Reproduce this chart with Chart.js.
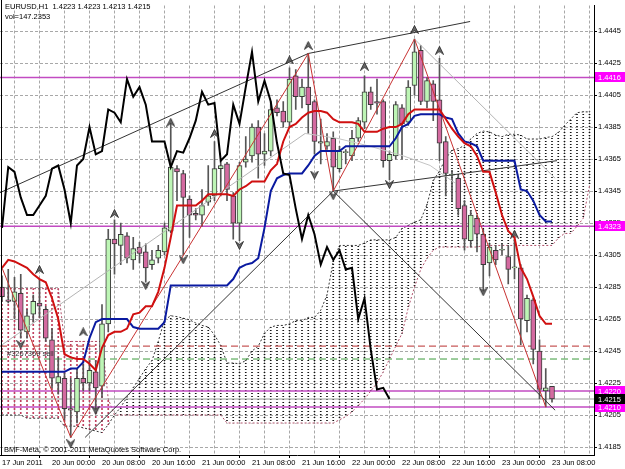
<!DOCTYPE html>
<html>
<head>
<meta charset="utf-8">
<script src="https://cdn.jsdelivr.net/npm/chart.js@4.4.1/dist/chart.umd.min.js"></script>
<style>
  html, body { margin: 0; padding: 0; background: #fff; }
  canvas { display: block; }
</style>
</head>
<body>
<canvas id="chart" width="625" height="469"></canvas>
<script>
// EURUSD H1, 17 Jun 2011 16:00 .. 23 Jun 2011 08:00 (one entry per bar)
const open  = [1.4285,1.4277,1.4276,1.4281,1.4257,1.4268,1.4275,1.4271,1.4252,1.4225,1.4228,1.4209,1.4207,1.4228,1.4225,1.4232,1.4223,1.4262,1.4315,1.4311,1.4317,1.4302,1.4310,1.4307,1.4299,1.4303,1.4307,1.4320,1.4359,1.4356,1.4340,1.4331,1.4330,1.4338,1.4342,1.4359,1.4362,1.4342,1.4325,1.4363,1.4367,1.4385,1.4368,1.4370,1.4397,1.4395,1.4388,1.4417,1.4404,1.4410,1.4401,1.4375,1.4373,1.4378,1.4359,1.4369,1.4367,1.4378,1.4388,1.4407,1.4401,1.4401,1.4364,1.4367,1.4397,1.4388,1.4411,1.4433,1.4401,1.4412,1.4402,1.4376,1.4355,1.4353,1.4336,1.4314,1.4328,1.4318,1.4300,1.4308,1.4308,1.4304,1.4297,1.4297,1.4264,1.4277,1.4245,1.4220,1.4223];
const high  = [1.4292,1.4296,1.4291,1.4293,1.4271,1.4280,1.4290,1.4273,1.4259,1.4241,1.4231,1.4228,1.4234,1.4237,1.4239,1.4239,1.4274,1.4321,1.4327,1.4325,1.4319,1.4316,1.4313,1.4312,1.4308,1.4311,1.4325,1.4389,1.4361,1.4358,1.4342,1.4334,1.4346,1.4361,1.4376,1.4364,1.4363,1.4344,1.4363,1.4379,1.4387,1.4389,1.4381,1.4401,1.4402,1.4401,1.4422,1.4421,1.4415,1.4431,1.4402,1.4390,1.4381,1.4382,1.4373,1.4371,1.4383,1.4391,1.4417,1.4410,1.4415,1.4402,1.4370,1.4401,1.4399,1.4414,1.4440,1.4436,1.4416,1.4414,1.4428,1.4379,1.4358,1.4355,1.4339,1.4333,1.4330,1.4321,1.4312,1.4311,1.4312,1.4311,1.4315,1.4299,1.4280,1.4278,1.4252,1.4234,1.4223];
const low   = [1.4276,1.4275,1.4265,1.4253,1.4253,1.4263,1.4266,1.4251,1.4222,1.4218,1.4202,1.4191,1.4200,1.4220,1.4220,1.4206,1.4216,1.4257,1.4293,1.4299,1.4300,1.4296,1.4300,1.4288,1.4296,1.4300,1.4305,1.4319,1.4339,1.4305,1.4316,1.4327,1.4323,1.4336,1.4339,1.4342,1.4339,1.4315,1.4314,1.4360,1.4363,1.4353,1.4361,1.4367,1.4392,1.4385,1.4385,1.4396,1.4397,1.4381,1.4368,1.4362,1.4371,1.4345,1.4357,1.4362,1.4364,1.4376,1.4384,1.4396,1.4393,1.4360,1.4352,1.4365,1.4365,1.4386,1.4405,1.4399,1.4397,1.4389,1.4364,1.4342,1.4339,1.4330,1.4308,1.4310,1.4307,1.4282,1.4292,1.4299,1.4305,1.4287,1.4290,1.4249,1.4257,1.4237,1.4215,1.4210,1.4213];
const close = [1.4279,1.4276,1.4282,1.4258,1.4267,1.4276,1.4273,1.4253,1.4228,1.4229,1.4209,1.4208,1.4228,1.4225,1.4233,1.4222,1.4262,1.4315,1.4312,1.4318,1.4303,1.4309,1.4306,1.4297,1.4302,1.4308,1.4322,1.4360,1.4357,1.4341,1.4330,1.4330,1.4336,1.4342,1.4359,1.4361,1.4346,1.4325,1.4361,1.4365,1.4385,1.4368,1.4370,1.4396,1.4394,1.4388,1.4415,1.4404,1.4410,1.4399,1.4376,1.4376,1.4376,1.4360,1.4370,1.4369,1.4378,1.4389,1.4407,1.4399,1.4400,1.4364,1.4368,1.4399,1.4387,1.4410,1.4432,1.4401,1.4414,1.4401,1.4375,1.4356,1.4355,1.4334,1.4315,1.4330,1.4318,1.4299,1.4310,1.4302,1.4308,1.4296,1.4297,1.4265,1.4278,1.4246,1.4221,1.4222,1.4215];

// Ichimoku lines
const tenkan = [1.4297,1.4302,1.4301,1.4299,1.4297,1.4293,1.4290,1.4288,1.4278,1.4265,1.4243,1.4241,1.4240,1.4240,1.4237,1.4233,1.4247,1.4255,1.4257,1.4257,1.4259,1.4268,1.4269,1.4273,1.4273,1.4282,1.4297,1.4316,1.4336,1.4336,1.4336,1.4336,1.4339,1.4343,1.4343,1.4343,1.4343,1.4342,1.4346,1.4348,1.4351,1.4351,1.4351,1.4358,1.4362,1.4376,1.4385,1.4387,1.4391,1.4394,1.4395,1.4395,1.4394,1.4390,1.4388,1.4388,1.4388,1.4387,1.4382,1.4382,1.4382,1.4384,1.4385,1.4385,1.4387,1.4393,1.4396,1.4396,1.4396,1.4396,1.4396,1.4390,1.4384,1.4379,1.4375,1.4373,1.4367,1.4357,1.4357,1.4344,1.4330,1.4320,1.4316,1.4297,1.4290,1.4279,1.4267,1.4262,1.4262];
const kijun  = [1.4232,1.4232,1.4232,1.4232,1.4232,1.4232,1.4232,1.4232,1.4232,1.4232,1.4232,1.4234,1.4234,1.4238,1.4253,1.4263,1.4265,1.4265,1.4265,1.4265,1.4265,1.4260,1.4259,1.4259,1.4259,1.4259,1.4263,1.4286,1.4286,1.4286,1.4286,1.4286,1.4286,1.4286,1.4286,1.4286,1.4286,1.4290,1.4297,1.4299,1.4300,1.4303,1.4322,1.4345,1.4353,1.4355,1.4356,1.4356,1.4356,1.4361,1.4367,1.4370,1.4370,1.4370,1.4370,1.4373,1.4373,1.4373,1.4373,1.4373,1.4373,1.4373,1.4373,1.4378,1.4385,1.4387,1.4392,1.4393,1.4393,1.4393,1.4393,1.4391,1.4390,1.4381,1.4376,1.4375,1.4373,1.4364,1.4364,1.4364,1.4364,1.4364,1.4364,1.4346,1.4345,1.4339,1.4330,1.4326,1.4326];
// cloud spans, already shifted 26 bars forward (95 bars incl. the empty right margin)
const spanA  = [1.4205,1.4205,1.4205,1.4205,1.4203,1.4203,1.4203,1.4203,1.4203,1.4203,1.4198,1.4198,1.4198,1.4197,1.4196,1.4195,1.4194,1.4199,1.4205,1.4210,1.4216,1.4222,1.4228,1.4234,1.4239,1.4251,1.42645,1.4267,1.42665,1.42655,1.42645,1.42625,1.4261,1.4260,1.4255,1.42485,1.42375,1.42375,1.4237,1.4239,1.4245,1.4248,1.4256,1.4260,1.4261,1.4261,1.4262,1.4264,1.4264,1.4266,1.4266,1.42705,1.4280,1.4301,1.4311,1.4311,1.4311,1.4311,1.43125,1.43145,1.43145,1.43145,1.43145,1.4316,1.43215,1.43235,1.43255,1.4327,1.43365,1.43515,1.43575,1.43655,1.43705,1.43715,1.43735,1.43775,1.4381,1.43825,1.4382,1.4380,1.4379,1.43805,1.43805,1.4380,1.43775,1.43775,1.43775,1.43785,1.4379,1.43815,1.4386,1.4390,1.4394,1.43945,1.43945];
const spanB  = [1.4284,1.4284,1.4284,1.4284,1.4284,1.4284,1.4284,1.4284,1.4284,1.4284,1.4251,1.4251,1.4251,1.4251,1.4251,1.4251,1.4251,1.4215,1.4205,1.4205,1.4205,1.4205,1.4205,1.4205,1.4205,1.4205,1.4205,1.4205,1.4205,1.4205,1.4205,1.4205,1.4205,1.4205,1.4205,1.4205,1.4200,1.4200,1.4200,1.4200,1.4200,1.4200,1.4200,1.4200,1.4200,1.4200,1.4200,1.4200,1.4200,1.4200,1.4200,1.4200,1.4200,1.4200,1.4202,1.4204,1.4207,1.4211,1.4215,1.4220,1.4225,1.4232,1.4240,1.4248,1.4256,1.4272,1.4285,1.4296,1.4303,1.4308,1.4310,1.4310,1.4310,1.4310,1.4310,1.4310,1.4310,1.4311,1.4311,1.4311,1.4311,1.4311,1.4311,1.4311,1.4311,1.4311,1.4311,1.4311,1.4311,1.43155,1.43185,1.43185,1.4323,1.4328,1.43485];
const chikouShift = 26;

// Fractal arrows (bar index, price)
const upFractalBar    = [6, 13, 18, 27, 34, 46, 49, 58, 66, 70, 82];
const upFractalPrice  = [1.4296,1.4257,1.4331,1.4388,1.4381,1.4427,1.4436,1.4423,1.4446,1.4433,1.4318];
const dnFractalBar    = [3, 11, 15, 23, 29, 38, 50, 53, 62, 77];
const dnFractalPrice  = [1.4249,1.4187,1.4208,1.4286,1.4302,1.4311,1.4355,1.4342,1.4349,1.4282];

// ZigZag turning points
const zigzagBar   = [0, 11, 49, 53, 66, 87];
const zigzagPrice = [1.4297, 1.4191, 1.4431, 1.4345, 1.4440, 1.4210];

// hand drawn trend lines: [bar, price, bar, price]
const blackLines = [
  [-0.32, 1.4344, 49, 1.4431],
  [49, 1.4431, 74.9, 1.4451],
  [53, 1.4345, 88.8, 1.4364],
  [53, 1.4345, 88.5, 1.4208],
  [13.3, 1.4191, 53, 1.4345]
];
const grayLines = [
  [66, 1.4440, 88.5, 1.4353],
  [-0.32, 1.4248, 48.5, 1.4381]
];
const arcBar   = [48.5, 53.6, 58.9, 64.2, 68.5, 72.5];
const arcPrice = [1.4381, 1.4378, 1.4373, 1.4367, 1.4361, 1.4350];

// horizontal levels
const levelPrices = [1.4416, 1.4323, 1.4220, 1.4210];
const bidPrice = 1.4215;
const stopLevel = 1.4248;
const takeLevel = 1.4240;

// axes
const priceTicks = [1.4185,1.4205,1.4225,1.4245,1.4265,1.4285,1.4305,1.4325,1.4345,1.4365,1.4385,1.4405,1.4425,1.4445];
const timeTickBars = [0, 8, 16, 24, 32, 40, 48, 56, 64, 72, 80, 88];
const timeLabels = ['17 Jun 2011','20 Jun 00:00','20 Jun 08:00','20 Jun 16:00','21 Jun 00:00','21 Jun 08:00','21 Jun 16:00','22 Jun 00:00','22 Jun 08:00','22 Jun 16:00','23 Jun 00:00','23 Jun 08:00'];

const X_MIN = -0.32, X_MAX = 94.72;
const FONT = '"Liberation Sans", Arial, sans-serif';

const canvas = document.getElementById('chart');
const ctx = canvas.getContext('2d');

// dotted vertical hatch used for the cloud
function hatch(color, on, period) {
  const c = document.createElement('canvas');
  c.width = 1; c.height = period;
  const g = c.getContext('2d');
  g.fillStyle = color;
  g.fillRect(0, 0, 1, on);
  return ctx.createPattern(c, 'repeat');
}

function arrowImage() {
  const c = document.createElement('canvas');
  c.width = 9; c.height = 9;
  const g = c.getContext('2d');
  g.fillStyle = '#666';
  g.strokeStyle = '#222';
  g.lineWidth = 0.8;
  g.beginPath();
  g.moveTo(4.5, 0.5); g.lineTo(8.5, 8.5); g.lineTo(4.5, 5.5); g.lineTo(0.5, 8.5); g.closePath();
  g.fill(); g.stroke();
  return c;
}
const arrow = arrowImage();

const bars = close.map((_, i) => i);
const candleColor = i => close[i] >= open[i] ? '#bdf5b5' : '#d46aa0';

const cloudUp = [], cloudDn = [];
spanA.forEach((a, i) => {
  const b = spanB[i];
  if (a >= b) cloudUp.push({ x: i, y: [b, a] });
  else cloudDn.push({ x: i, y: [a, b] });
});

const hline = (p) => [{ x: X_MIN, y: p }, { x: X_MAX, y: p }];
const seg = (l) => [{ x: l[0], y: l[1] }, { x: l[2], y: l[3] }];
const lineDs = (data, color, width, order, dash) => ({
  type: 'line', data, borderColor: color, borderWidth: width, borderDash: dash || [],
  pointRadius: 0, tension: 0, fill: false, order
});

const datasets = [
  // cloud
  { type: 'bar', data: cloudUp, backgroundColor: hatch('#111', 1, 3), barThickness: 1, grouped: false, order: 20 },
  { type: 'bar', data: cloudDn, backgroundColor: hatch('#c0405f', 2, 4), barThickness: 1, grouped: false, order: 20 },
  lineDs(spanA.map((v, i) => ({ x: i, y: v })), '#333', 1, 19, [2, 2]),
  lineDs(spanB.map((v, i) => ({ x: i, y: v })), '#b0506a', 1, 19, [2, 2]),
  // levels
  ...levelPrices.map(p => lineDs(hline(p), '#c24bc2', 1.5, 15)),
  lineDs(hline(bidPrice), '#9a9a9a', 1, 15),
  lineDs(hline(stopLevel), '#c85a5a', 1.2, 15, [7, 4]),
  lineDs(hline(takeLevel), '#3a9a3a', 1, 15, [7, 4]),
  // candles
  { type: 'bar', data: bars.map(i => ({ x: i, y: [low[i], high[i]] })), backgroundColor: '#555', barThickness: 1, grouped: false, order: 12 },
  { type: 'bar', data: bars.map(i => ({ x: i, y: [open[i], close[i]] })),
    backgroundColor: c => candleColor(c.dataIndex), borderColor: '#3a3a3a', borderWidth: 1,
    borderSkipped: false, barThickness: 5, minBarLength: 1, grouped: false, order: 11 },
  // trend lines and zigzag
  ...grayLines.map(l => lineDs(seg(l), '#b4b4b4', 1, 9)),
  lineDs(arcBar.map((b, i) => ({ x: b, y: arcPrice[i] })), '#c4c4c4', 1, 9),
  ...blackLines.map(l => lineDs(seg(l), '#333', 1, 8)),
  lineDs(zigzagBar.map((b, i) => ({ x: b, y: zigzagPrice[i] })), '#c83232', 1, 7),
  // ichimoku lines
  lineDs(kijun.map((v, i) => ({ x: i, y: v })), '#0a1aa0', 2, 5),
  lineDs(tenkan.map((v, i) => ({ x: i, y: v })), '#d01010', 2, 4),
  lineDs(close.slice(chikouShift).map((v, i) => ({ x: i, y: v })), '#000', 2, 3),
  // fractals
  { type: 'scatter', data: upFractalBar.map((b, i) => ({ x: b, y: upFractalPrice[i] })),
    pointStyle: arrow, pointRadius: 4, order: 1 },
  { type: 'scatter', data: dnFractalBar.map((b, i) => ({ x: b, y: dnFractalPrice[i] })),
    pointStyle: arrow, rotation: 180, pointRadius: 4, order: 1 }
];

const overlay = {
  id: 'overlay',
  afterDraw(chart) {
    const g = chart.ctx;
    const y = chart.scales.y;
    g.save();
    // left frame
    g.fillStyle = '#000';
    g.fillRect(1, 0, 1, chart.chartArea.bottom);
    g.font = '7.5px ' + FONT;
    g.textBaseline = 'middle';
    // price boxes on the axis
    const boxes = levelPrices.map(p => [p, '#ff00ff']).concat([[bidPrice, '#000']]);
    boxes.forEach(([p, col]) => {
      const py = y.getPixelForValue(p);
      g.fillStyle = col;
      g.fillRect(595, Math.round(py) - 5, 30, 10);
      g.fillStyle = '#fff';
      g.fillText(p.toFixed(4), 598, py + 0.5);
    });
    g.fillStyle = '#000';
    g.textBaseline = 'alphabetic';
    g.fillText('EURUSD,H1  1.4223 1.4223 1.4213 1.4215', 5, 9);
    g.fillText('vol=147.2353', 5, 19);
    g.fillText('BMF-Meta, \u00a9 2001-2011 MetaQuotes Software Corp.', 4, 452);
    g.fillStyle = '#333';
    g.fillText('#3267369 sell', 7, y.getPixelForValue(1.4244) + 3);
    g.restore();
  }
};

new Chart(ctx, {
  type: 'bar',
  data: { datasets },
  options: {
    responsive: false,
    animation: false,
    events: [],
    layout: { padding: { top: 0, left: 0, right: 0, bottom: 0 }, autoPadding: false },
    plugins: { legend: { display: false }, tooltip: { enabled: false } },
    scales: {
      x: {
        type: 'linear', position: 'bottom', min: X_MIN, max: X_MAX, offset: false,
        afterBuildTicks: s => { s.ticks = bars.filter(i => i % 4 === 0).concat([92]).map(v => ({ value: v })); },
        afterFit: s => { s.height = 14; },
        ticks: {
          autoSkip: false, maxRotation: 0, align: 'start', padding: 0,
          color: '#000', font: { family: FONT, size: 7.5 },
          callback: v => { const k = timeTickBars.indexOf(v); return k >= 0 ? timeLabels[k] : ''; }
        },
        grid: {
          color: '#a8a8a8', lineWidth: 1, drawTicks: true, tickLength: 3, tickBorderDash: [],
          tickColor: c => (c.tick && timeTickBars.includes(c.tick.value)) ? '#000' : 'rgba(0,0,0,0)'
        },
        border: { display: true, color: '#000', width: 1, dash: [3, 2] }
      },
      y: {
        type: 'linear', position: 'right', min: 1.4180, max: 1.4461,
        afterBuildTicks: s => { s.ticks = priceTicks.map(v => ({ value: v })); },
        afterFit: s => { s.width = 31; },
        ticks: {
          padding: 1, color: '#000', font: { family: FONT, size: 7.5 },
          callback: v => v.toFixed(4)
        },
        grid: { color: '#a8a8a8', lineWidth: 1, drawTicks: true, tickLength: 3, tickColor: '#000', tickBorderDash: [] },
        border: { display: true, color: '#000', width: 1, dash: [3, 2] }
      }
    }
  },
  plugins: [overlay]
});
</script>
</body>
</html>
